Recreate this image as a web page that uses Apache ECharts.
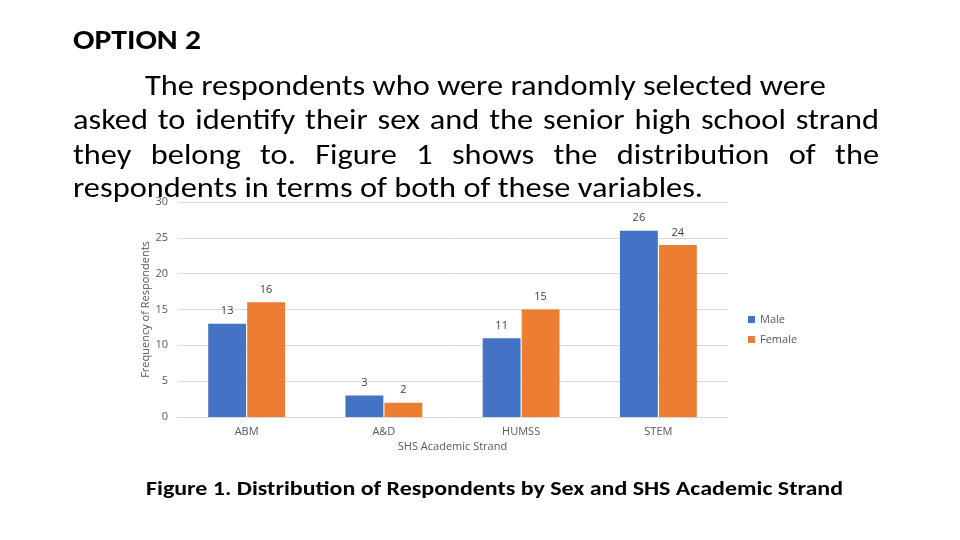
<!DOCTYPE html>
<html>
<head>
<meta charset="utf-8">
<script src="https://cdn.jsdelivr.net/npm/echarts@6/dist/echarts.min.js"></script>
<style>html,body{margin:0;padding:0;background:#fff}#c{width:960px;height:540px}</style>
</head>
<body>
<div id="c"></div>
<script>
const categories = ['ABM', 'A&D', 'HUMSS', 'STEM'];
const maleValues = [13, 3, 11, 26];
const femaleValues = [16, 2, 15, 24];
const seriesNames = ['Male', 'Female'];
const headingText = 'OPTION 2';
const paragraphLines = [
  'The respondents who were randomly selected were',
  'asked to identify their sex and the senior high school strand',
  'they belong to. Figure 1 shows the distribution of the',
  'respondents in terms of both of these variables.'
];
const captionText = 'Figure 1. Distribution of Respondents by Sex and SHS Academic Strand';

const FAMILY = 'Carlito, "Open Sans", sans-serif';
const CHART_FAMILY = '"Open Sans", sans-serif';
const cv = document.createElement('canvas').getContext('2d');
function measure(t, size, weight) {
  cv.font = (weight || 'normal') + ' ' + size + 'px ' + FAMILY;
  return cv.measureText(t).width;
}
function textEl(t, x, y, size, weight, sx) {
  return {
    type: 'text', x: x, y: y, scaleX: sx, silent: true, z: 100,
    style: { text: t, x: 0, y: 0, fontSize: size, fontFamily: FAMILY, fontWeight: weight || 'normal',
             fill: '#000', align: 'left', verticalAlign: 'middle' }
  };
}
function fitLine(t, x, width, y, size, weight) {
  const sx = width / measure(t, size, weight);
  return textEl(t, x, y, size, weight, sx);
}
function justifyLine(t, x, width, y, size, sx) {
  const words = t.split(' ');
  const ws = words.map(w => measure(w, size) * sx);
  const total = ws.reduce((a, b) => a + b, 0);
  const gap = (width - total) / (words.length - 1);
  const out = [];
  let cx = x;
  words.forEach((w, i) => { out.push(textEl(w, cx, y, size, 'normal', sx)); cx += ws[i] + gap; });
  return out;
}

const PS = 29;
const baseScale = 630 / measure(paragraphLines[3], PS);
const graphics = [];
graphics.push(fitLine(headingText, 73, 128, 42, 29, 'bold'));
graphics.push(textEl(paragraphLines[0], 145, 88, PS, 'normal', baseScale));
graphics.push(...justifyLine(paragraphLines[1], 73, 806, 122, PS, baseScale));
graphics.push(...justifyLine(paragraphLines[2], 73, 806, 157, PS, baseScale));
graphics.push(textEl(paragraphLines[3], 73, 190, PS, 'normal', baseScale));
graphics.push(fitLine(captionText, 146, 697, 490, 20, 'bold'));

const chart = echarts.init(document.getElementById('c'));
const labelStyle = { show: true, position: 'top', distance: 7, fontSize: 11, color: '#404040', fontFamily: CHART_FAMILY };
chart.setOption({
  backgroundColor: '#fff',
  animation: false,
  grid: { left: 178, right: 233, top: 202, bottom: 123, containLabel: false },
  legend: {
    orient: 'vertical', left: 743, top: 309, itemWidth: 7, itemHeight: 7, itemGap: 9,
    icon: 'rect', textStyle: { fontSize: 11, color: '#595959', fontFamily: CHART_FAMILY },
    data: seriesNames
  },
  xAxis: {
    type: 'category', data: categories,
    name: 'SHS Academic Strand', nameLocation: 'middle', nameGap: 24, nameMoveOverlap: false,
    nameTextStyle: { fontSize: 11, color: '#595959', fontFamily: CHART_FAMILY },
    axisLine: { lineStyle: { color: '#d9d9d9' } }, axisTick: { show: false },
    axisLabel: { fontSize: 11, color: '#595959', margin: 9, fontFamily: CHART_FAMILY }
  },
  yAxis: {
    type: 'value', min: 0, max: 30, interval: 5,
    name: 'Frequency of Respondents', nameLocation: 'middle', nameGap: 27, nameMoveOverlap: false,
    nameTextStyle: { fontSize: 11, color: '#595959', fontFamily: CHART_FAMILY },
    axisLine: { show: false }, axisTick: { show: false },
    axisLabel: { fontSize: 11, color: '#595959', margin: 10, fontFamily: CHART_FAMILY },
    splitLine: { lineStyle: { color: '#d9d9d9' } }
  },
  series: [
    { name: seriesNames[0], type: 'bar', data: maleValues, barCategoryGap: '44%', barGap: '3%',
      itemStyle: { color: '#4472C4' }, label: labelStyle },
    { name: seriesNames[1], type: 'bar', data: femaleValues,
      itemStyle: { color: '#ED7D31' }, label: labelStyle }
  ],
  graphic: graphics
});
</script>
</body>
</html>
